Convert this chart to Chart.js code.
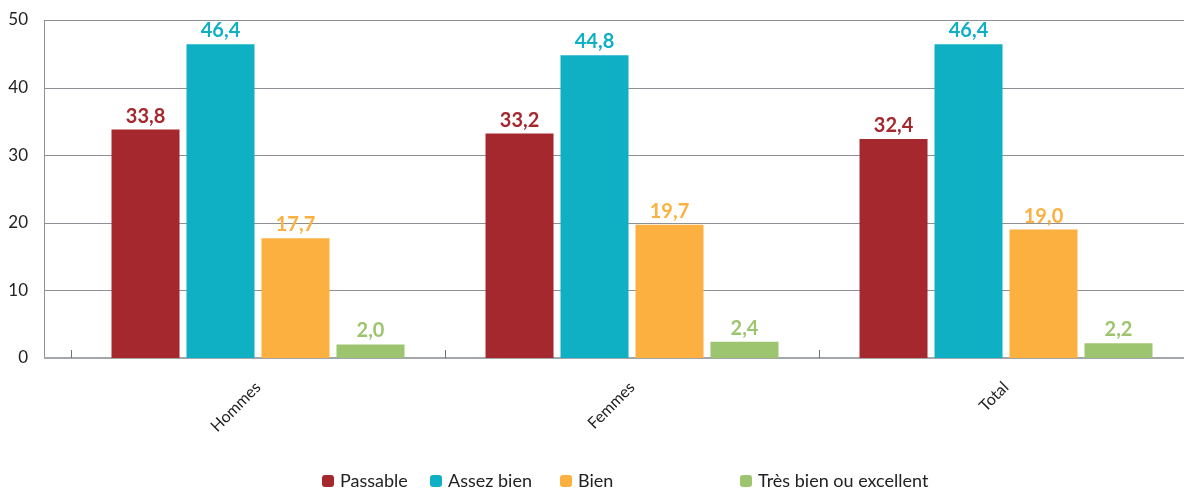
<!DOCTYPE html>
<html lang="fr">
<head>
<meta charset="utf-8">
<title>Répartition par appréciation</title>
<script src="https://cdn.jsdelivr.net/npm/chart.js@4/dist/chart.umd.min.js"></script>
<style>
  html, body { margin: 0; padding: 0; background: #fff; overflow: hidden; }
  #wrap { position: relative; width: 1240px; height: 490px; }
</style>
</head>
<body>
<div id="wrap"><canvas id="c" width="1240" height="490"></canvas></div>
<script>
// Categories and series values
const categories = ['Hommes', 'Femmes', 'Total'];
const seriesNames = ['Passable', 'Assez bien', 'Bien', 'Très bien ou excellent'];
const passable = [33.8, 33.2, 32.4];
const assezBien = [46.4, 44.8, 46.4];
const bien = [17.7, 19.7, 19.0];
const tresBien = [2.0, 2.4, 2.2];
const yTicks = [0, 10, 20, 30, 40, 50];

const colors = ['#A4282E', '#0FB0C4', '#FBB040', '#9DC46F'];
const FONT = 'Lato, "Open Sans", sans-serif';
const AXIS_INSET = 27;          // y axis line sits left of the first category band
const GRID_COLOR = '#8d9196';
const LEGEND_LEFT = 322;        // legend row start
const LEGEND_SLOTS = [108, 130, 180, 180]; // width reserved per legend entry
const LEGEND_Y = 481;

// Gridlines, axis lines and category separators
const framePlugin = {
  id: 'frame',
  beforeDatasetsDraw(chart) {
    const { ctx, chartArea, scales } = chart;
    const ys = scales.y, xs = scales.x;
    const left = chartArea.left - AXIS_INSET;
    const right = chart.width;
    ctx.save();
    ctx.lineWidth = 1;
    ctx.strokeStyle = GRID_COLOR;
    ys.ticks.forEach(t => {
      if (t.value === 0) return;
      const py = Math.round(ys.getPixelForValue(t.value)) + 0.5;
      ctx.beginPath(); ctx.moveTo(left, py); ctx.lineTo(right, py); ctx.stroke();
    });
    const bottom = Math.round(ys.getPixelForValue(0));
    ctx.beginPath();
    ctx.moveTo(left + 0.5, Math.round(ys.getPixelForValue(ys.max)));
    ctx.lineTo(left + 0.5, bottom);
    ctx.stroke();
    // base line
    ctx.strokeStyle = '#a3a7ab';
    ctx.lineWidth = 2;
    ctx.beginPath(); ctx.moveTo(left, bottom); ctx.lineTo(right, bottom); ctx.stroke();
    // separators between categories
    ctx.lineWidth = 1;
    ctx.strokeStyle = '#6f747a';
    const half = (xs.getPixelForValue(1) - xs.getPixelForValue(0)) / 2;
    for (let i = 0; i <= categories.length; i++) {
      const px = Math.round(xs.getPixelForValue(i) - half) + 0.5;
      ctx.beginPath(); ctx.moveTo(px, bottom - 8); ctx.lineTo(px, bottom); ctx.stroke();
    }
    ctx.restore();
  }
};

// Value labels above each bar, in the bar colour
const valueLabelPlugin = {
  id: 'valueLabels',
  afterDatasetsDraw(chart) {
    const { ctx } = chart;
    ctx.save();
    ctx.font = 'bold 20px ' + FONT;
    ctx.textAlign = 'center';
    ctx.textBaseline = 'alphabetic';
    chart.data.datasets.forEach((ds, di) => {
      const meta = chart.getDatasetMeta(di);
      ctx.fillStyle = ds.backgroundColor;
      meta.data.forEach((bar, i) => {
        const v = ds.data[i];
        ctx.fillText(v.toFixed(1).replace('.', ','), bar.x, bar.y - 7);
      });
    });
    ctx.restore();
  }
};

// Legend row: a rounded swatch followed by the series name
const legendRowPlugin = {
  id: 'legendRow',
  afterDraw(chart) {
    const { ctx } = chart;
    ctx.save();
    ctx.font = '18px ' + FONT;
    ctx.textAlign = 'left';
    ctx.textBaseline = 'middle';
    let x = LEGEND_LEFT;
    chart.data.datasets.forEach((ds, i) => {
      ctx.fillStyle = ds.backgroundColor;
      ctx.beginPath();
      ctx.roundRect(x, LEGEND_Y - 6, 12, 12, 3);
      ctx.fill();
      ctx.fillStyle = '#222';
      ctx.fillText(ds.label, x + 18, LEGEND_Y);
      x += LEGEND_SLOTS[i];
    });
    ctx.restore();
  }
};

const seriesValues = [passable, assezBien, bien, tresBien];

new Chart(document.getElementById('c'), {
  type: 'bar',
  data: {
    labels: categories,
    datasets: seriesNames.map((name, i) => ({
      label: name,
      data: seriesValues[i],
      backgroundColor: colors[i],
      borderWidth: 0,
      barPercentage: 0.907,
      categoryPercentage: 0.802
    }))
  },
  options: {
    responsive: false,
    animation: false,
    events: [],
    layout: { autoPadding: false, padding: { top: 20, right: 47, left: 0, bottom: 40 } },
    scales: {
      y: {
        min: 0, max: 50,
        afterBuildTicks(scale) { scale.ticks = yTicks.map(v => ({ value: v })); },
        afterFit(scale) {
          scale.width = 71;
          scale.paddingTop = 0;
          scale.paddingBottom = 0;
        },
        grid: { display: false, drawTicks: false },
        border: { display: false },
        ticks: { padding: 43, color: '#222', font: { family: FONT, size: 17 } }
      },
      x: {
        afterFit(scale) {
          scale.height = 92;
          scale.paddingLeft = 0;
          scale.paddingRight = 0;
        },
        grid: { display: false, drawTicks: false },
        border: { display: false },
        ticks: {
          minRotation: 45, maxRotation: 45, padding: 20,
          color: '#222', font: { family: FONT, size: 16 }
        }
      }
    },
    plugins: {
      legend: { display: false },
      tooltip: { enabled: false }
    }
  },
  plugins: [framePlugin, valueLabelPlugin, legendRowPlugin]
});
</script>
</body>
</html>
